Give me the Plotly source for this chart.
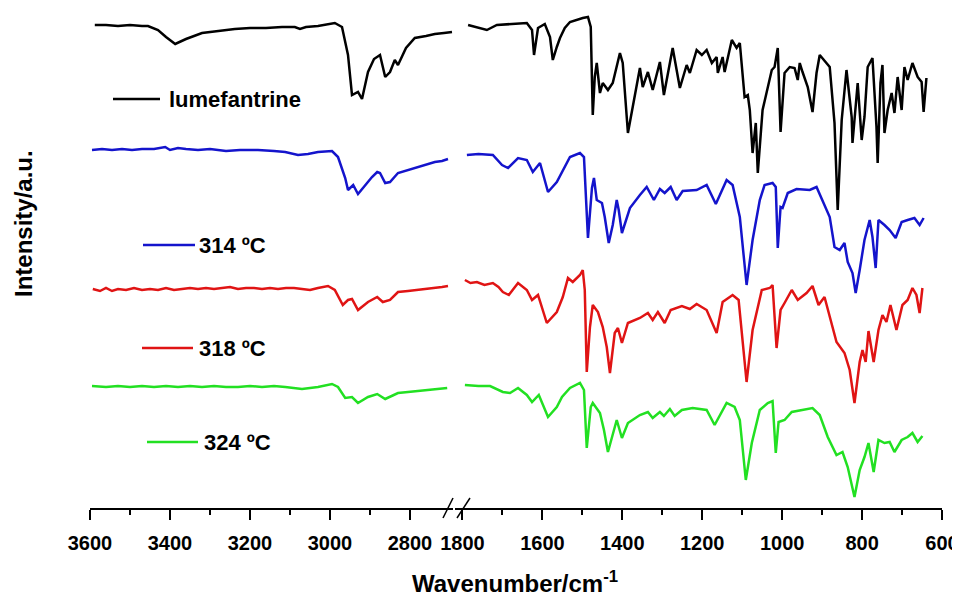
import plotly.graph_objects as go

# ---------------- data (wavenumber / cm-1, offset intensity a.u.) ----------------
# high-wavenumber window (3600 - 2700 cm-1)
wn_lum_hi = [3588, 3560, 3530, 3500, 3470, 3455, 3430, 3410, 3387, 3360, 3320, 3280, 3238, 3200, 3160, 3120, 3088, 3075, 3060, 3030, 2988, 2970, 2955, 2945, 2930, 2920, 2905, 2890, 2875, 2862, 2850, 2838, 2830, 2810, 2788, 2760, 2738, 2715, 2695]
i_lum_hi = [483, 483, 482, 483, 482, 482, 478, 471, 464, 469, 475, 477, 479, 480, 480, 481, 481, 479, 481, 482, 485, 481, 453, 413, 416, 409, 436, 449, 453, 431, 436, 448, 443, 460, 470, 472, 474, 475, 476]

wn_314_hi = [3595, 3570, 3545, 3520, 3495, 3470, 3440, 3412, 3400, 3380, 3360, 3330, 3300, 3260, 3225, 3180, 3140, 3112, 3080, 3055, 3030, 2995, 2980, 2962, 2955, 2942, 2930, 2912, 2895, 2882, 2875, 2862, 2850, 2830, 2805, 2780, 2760, 2738, 2720, 2705]
i_314_hi = [358, 359, 358, 359, 358, 359, 359, 361, 358, 360, 359, 358, 359, 357, 358, 358, 357, 356, 353, 354, 356, 357, 351, 330, 318, 323, 314, 323, 331, 336, 335, 325, 326, 335, 338, 341, 344, 346, 347, 349]

wn_318_hi = [3593, 3575, 3560, 3545, 3530, 3510, 3490, 3470, 3450, 3430, 3410, 3390, 3370, 3350, 3330, 3310, 3290, 3270, 3250, 3230, 3210, 3190, 3170, 3150, 3130, 3110, 3090, 3070, 3050, 3030, 3005, 2988, 2968, 2955, 2945, 2930, 2905, 2882, 2868, 2850, 2830, 2805, 2780, 2760, 2740, 2720, 2705]
i_318_hi = [219, 217, 220, 217, 219, 218, 220, 218, 219, 218, 220, 218, 219, 220, 219, 220, 219, 220, 221, 219, 220, 220, 219, 220, 219, 220, 220, 219, 218, 220, 222, 218, 203, 208, 209, 198, 206, 211, 206, 208, 216, 217, 218, 219, 220, 221, 222]

wn_324_hi = [3595, 3560, 3530, 3500, 3470, 3440, 3410, 3380, 3350, 3320, 3290, 3260, 3230, 3200, 3170, 3140, 3112, 3070, 3030, 2995, 2980, 2962, 2945, 2930, 2905, 2882, 2862, 2830, 2805, 2780, 2750, 2730, 2707]
i_324_hi = [122, 121, 122, 121, 122, 121, 122, 121, 122, 121, 122, 121, 121, 122, 121, 122, 121, 119, 121, 124, 121, 110, 111, 105, 111, 114, 109, 115, 116, 117, 118, 119, 120]

# fingerprint window (1800 - 600 cm-1)
wn_lum_lo = [1786, 1760, 1739, 1714, 1680, 1639, 1626, 1621, 1611, 1594, 1581, 1574, 1564, 1556, 1544, 1531, 1499, 1486, 1479, 1474, 1469, 1464, 1456, 1449, 1436, 1424, 1406, 1399, 1386, 1374, 1356, 1349, 1336, 1324, 1306, 1296, 1274, 1256, 1239, 1231, 1214, 1201, 1189, 1176, 1164, 1161, 1149, 1144, 1126, 1114, 1106, 1094, 1086, 1081, 1074, 1066, 1061, 1049, 1026, 1019, 1011, 1004, 994, 981, 969, 961, 956, 949, 936, 924, 914, 906, 889, 881, 869, 861, 851, 839, 826, 824, 811, 801, 794, 786, 774, 764, 761, 754, 749, 744, 736, 726, 719, 711, 701, 694, 686, 674, 661, 651, 646, 639]
i_lum_lo = [483, 480, 478, 483, 484, 485, 478, 453, 480, 484, 471, 448, 461, 470, 480, 486, 490, 491, 481, 393, 431, 445, 415, 425, 418, 425, 455, 445, 375, 401, 440, 421, 436, 418, 446, 413, 460, 420, 443, 435, 458, 453, 458, 445, 451, 435, 451, 436, 468, 460, 465, 411, 413, 398, 355, 385, 335, 398, 438, 441, 460, 376, 435, 441, 440, 428, 445, 436, 421, 396, 435, 453, 445, 441, 385, 298, 388, 438, 391, 365, 425, 368, 391, 441, 450, 381, 345, 425, 443, 375, 398, 415, 395, 431, 398, 441, 428, 445, 431, 426, 396, 430]

wn_314_lo = [1789, 1760, 1724, 1701, 1686, 1661, 1639, 1624, 1606, 1586, 1564, 1549, 1531, 1506, 1496, 1486, 1476, 1471, 1464, 1451, 1444, 1434, 1424, 1414, 1409, 1401, 1381, 1356, 1339, 1321, 1306, 1294, 1279, 1264, 1249, 1214, 1189, 1166, 1139, 1124, 1106, 1089, 1074, 1056, 1044, 1024, 1016, 1011, 1004, 999, 986, 964, 931, 914, 899, 881, 869, 856, 844, 836, 824, 816, 806, 794, 781, 774, 766, 759, 744, 731, 716, 701, 686, 669, 656, 646]
i_314_lo = [353, 354, 353, 343, 340, 350, 348, 336, 345, 316, 326, 338, 351, 355, 351, 270, 320, 330, 308, 305, 291, 265, 283, 308, 298, 275, 300, 313, 321, 308, 319, 315, 321, 308, 317, 318, 323, 304, 328, 323, 291, 223, 268, 308, 323, 325, 321, 260, 301, 300, 315, 319, 318, 321, 308, 291, 261, 258, 265, 246, 235, 215, 238, 268, 288, 271, 240, 288, 283, 278, 270, 286, 288, 290, 283, 290]

wn_318_lo = [1794, 1780, 1764, 1745, 1724, 1710, 1699, 1684, 1661, 1639, 1626, 1611, 1589, 1564, 1549, 1536, 1524, 1506, 1499, 1494, 1489, 1481, 1474, 1461, 1449, 1439, 1431, 1419, 1411, 1401, 1386, 1356, 1336, 1324, 1311, 1294, 1279, 1251, 1231, 1214, 1189, 1164, 1149, 1124, 1109, 1089, 1074, 1051, 1031, 1024, 1014, 1004, 994, 976, 961, 939, 924, 909, 894, 876, 864, 844, 831, 819, 806, 799, 791, 784, 771, 759, 749, 739, 729, 714, 699, 686, 674, 664, 656, 649]
i_318_lo = [228, 225, 226, 223, 225, 221, 216, 213, 225, 218, 208, 213, 185, 196, 211, 230, 226, 233, 238, 218, 136, 181, 203, 196, 181, 161, 135, 175, 180, 165, 185, 190, 195, 188, 196, 185, 198, 202, 199, 204, 198, 175, 206, 213, 208, 126, 178, 218, 220, 223, 160, 198, 205, 218, 208, 215, 222, 203, 211, 185, 166, 155, 138, 105, 146, 158, 146, 177, 146, 178, 193, 186, 203, 178, 203, 208, 220, 213, 195, 220]

wn_324_lo = [1794, 1760, 1731, 1699, 1681, 1661, 1639, 1626, 1609, 1586, 1564, 1551, 1531, 1506, 1496, 1489, 1479, 1474, 1456, 1446, 1436, 1424, 1414, 1401, 1386, 1356, 1336, 1324, 1306, 1296, 1281, 1269, 1251, 1224, 1189, 1169, 1139, 1119, 1106, 1091, 1076, 1056, 1036, 1024, 1016, 1009, 994, 976, 949, 924, 906, 886, 864, 849, 836, 819, 806, 794, 784, 771, 759, 744, 731, 719, 701, 686, 674, 661, 649]
i_324_lo = [123, 122, 122, 116, 115, 120, 113, 106, 113, 91, 101, 111, 120, 125, 118, 60, 101, 105, 95, 78, 56, 75, 88, 70, 85, 93, 96, 90, 96, 92, 99, 92, 98, 100, 98, 83, 105, 101, 88, 28, 65, 98, 105, 107, 55, 86, 88, 96, 98, 100, 93, 71, 53, 56, 41, 11, 38, 51, 65, 36, 68, 65, 66, 56, 68, 71, 75, 66, 72]

series_names = ["lumefantrine", "314 ºC", "318 ºC", "324 ºC"]
series_colors = ["#000000", "#1414cc", "#e01414", "#22e022"]

hi_x = [3600, 3400, 3200, 3000, 2800]
hi_minor = [3500, 3300, 3100, 2900]
lo_x = [1800, 1600, 1400, 1200, 1000, 800, 600]
lo_minor = [1700, 1500, 1300, 1100, 900, 700]

# ---------------- figure ----------------
# the page body has an 8px margin; work in page pixels and subtract it
OFF = 8
W, H = 960 - OFF, 599 - OFF
PL, PR, PT, PB = 90, 942, 10, 508          # plot area in page pixels
L, R, T, B = PL - OFF, W - (PR - OFF), PT - OFF, H - (PB - OFF)
pw = PR - PL
ph = PB - PT

def px(xp):
    return (xp - PL) / pw

def py(yp):
    return (PB - yp) / ph

hi_sets = [(wn_lum_hi, i_lum_hi), (wn_314_hi, i_314_hi), (wn_318_hi, i_318_hi), (wn_324_hi, i_324_hi)]
lo_sets = [(wn_lum_lo, i_lum_lo), (wn_314_lo, i_314_lo), (wn_318_lo, i_318_lo), (wn_324_lo, i_324_lo)]

LW = 2.5
fig = go.Figure()
for (xs, ys), nm, c in zip(hi_sets, series_names, series_colors):
    fig.add_trace(go.Scatter(x=xs, y=ys, mode="lines", name=nm, showlegend=False,
                             line=dict(color=c, width=LW), xaxis="x", yaxis="y"))
for (xs, ys), nm, c in zip(lo_sets, series_names, series_colors):
    fig.add_trace(go.Scatter(x=xs, y=ys, mode="lines", name=nm, showlegend=False,
                             line=dict(color=c, width=LW), xaxis="x2", yaxis="y"))

FONT = "Liberation Sans, Arial, sans-serif"
tickfont = dict(family=FONT, size=20, color="black", weight="bold")
axis_common = dict(showline=True, linecolor="black", linewidth=1.5, ticks="outside", ticklen=10,
                   tickwidth=1.5, tickcolor="black", showgrid=False, zeroline=False,
                   tickfont=tickfont, ticklabelstandoff=6, ticklabeloverflow="allow")

fig.update_layout(
    width=W, height=H,
    margin=dict(l=L, r=R, t=T, b=B),
    plot_bgcolor="white", paper_bgcolor="white",
    showlegend=False,
    xaxis=dict(domain=[0, px(453)], range=[3600, 2692.5], tickmode="array", tickvals=hi_x,
               minor=dict(tickmode="array", tickvals=hi_minor, ticks="outside", ticklen=5,
                          tickwidth=1.5, tickcolor="black", showgrid=False),
               anchor="y", **axis_common),
    xaxis2=dict(domain=[px(455), 1], range=[1818.75, 600], tickmode="array", tickvals=lo_x,
                minor=dict(tickmode="array", tickvals=lo_minor, ticks="outside", ticklen=5,
                           tickwidth=1.5, tickcolor="black", showgrid=False),
                anchor="y", **axis_common),
    yaxis=dict(range=[0, ph], visible=False, fixedrange=True),
)

# axis break marks
for (x0, x1) in [(443, 453), (457, 470)]:
    fig.add_shape(type="line", xref="paper", yref="paper", x0=px(x0), y0=py(518), x1=px(x1), y1=py(498),
                  line=dict(color="black", width=1.5))

# in-plot legend
label_font = dict(family=FONT, size=22, color="black", weight="bold")
legend_pos = [(113, 160, 168, 99), (143, 195, 198, 245), (142, 193, 198, 348), (147, 198, 203, 442)]
for (lx0, lx1, tx, ly), nm, c in zip(legend_pos, series_names, series_colors):
    fig.add_shape(type="line", xref="paper", yref="paper", x0=px(lx0), x1=px(lx1), y0=py(ly), y1=py(ly),
                  line=dict(color=c, width=LW))
    fig.add_annotation(xref="paper", yref="paper", x=px(tx), y=py(ly), text=nm, showarrow=False,
                       xanchor="left", yanchor="middle", font=label_font, borderpad=0)

# axis titles
title_font = dict(family=FONT, size=24, color="black", weight="bold")
fig.add_annotation(xref="paper", yref="paper", x=px(515), y=py(582), text="Wavenumber/cm<sup>-1</sup>",
                   showarrow=False, xanchor="center", yanchor="middle", font=title_font)
fig.add_annotation(xref="paper", yref="paper", x=px(23), y=py(224), text="Intensity/a.u.",
                   showarrow=False, xanchor="center", yanchor="middle", textangle=-90, font=title_font)

fig.write_html("out.html")
